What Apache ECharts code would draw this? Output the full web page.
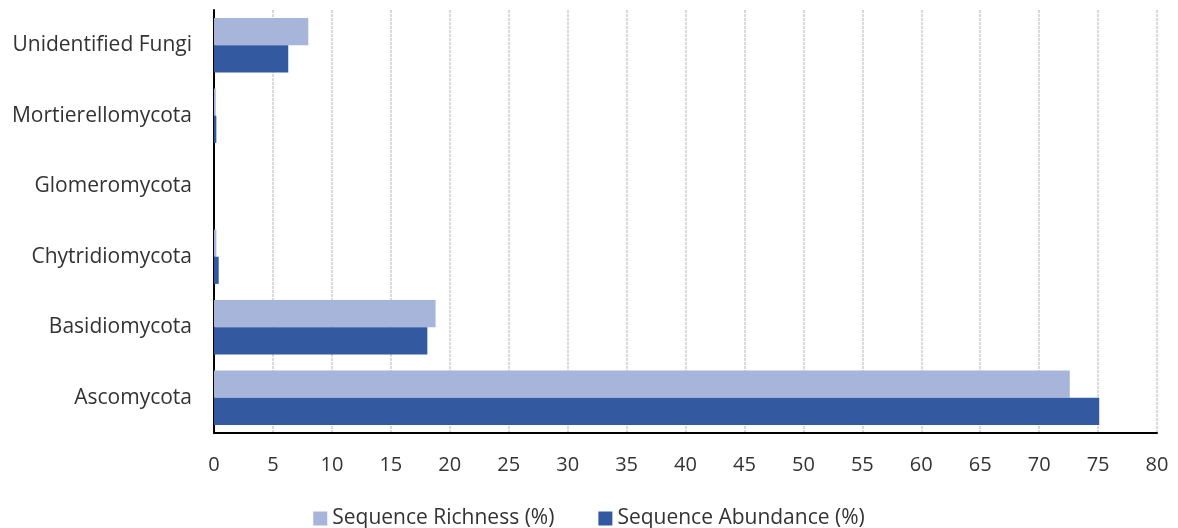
<!DOCTYPE html>
<html><head><meta charset="utf-8">
<script src="https://cdn.jsdelivr.net/npm/echarts@6/dist/echarts.min.js"></script>
<style>html,body{margin:0;padding:0;background:#fff}#c{width:1178px;height:528px}</style>
</head><body><div id="c"></div>
<script>
const categories = ['Ascomycota','Basidiomycota','Chytridiomycota','Glomeromycota','Mortierellomycota','Unidentified Fungi'];
const richness = [72.6, 18.8, 0.2, 0, 0.15, 8.0];
const abundance = [75.1, 18.1, 0.4, 0, 0.2, 6.3];
const seriesNames = ['Sequence Richness (%)','Sequence Abundance (%)'];
const xTicks = {min:0, max:80, interval:5};

const chart = echarts.init(document.getElementById('c'));
const font = 'Open Sans, Liberation Sans, sans-serif';
chart.setOption({
  animation:false,
  grid:{left:214, right:21, top:10, bottom:95, containLabel:false},
  legend:{data:seriesNames, bottom:-6, itemWidth:14, itemHeight:14, itemGap:44, icon:'rect',
    textStyle:{fontFamily:font, fontSize:21, color:'#333'}},
  xAxis:{type:'value', min:xTicks.min, max:xTicks.max, interval:xTicks.interval,
    axisLine:{show:true, lineStyle:{color:'#000', width:2}}, axisTick:{show:false},
    axisLabel:{fontFamily:font, fontSize:20, color:'#333', margin:22},
    splitLine:{show:true, lineStyle:{color:'#d9d9d9', width:2, type:[3,1]}}},
  yAxis:{type:'category', data:categories,
    axisLine:{show:true, lineStyle:{color:'#000', width:2}}, axisTick:{show:false},
    axisLabel:{fontFamily:font, fontSize:21, color:'#333', margin:22}},
  series:[
    {name:seriesNames[0], type:'bar', data:richness, barGap:'0%', barCategoryGap:'23%',
     itemStyle:{color:'#A7B5DB'}},
    {name:seriesNames[1], type:'bar', data:abundance, barGap:'0%', barCategoryGap:'23%',
     itemStyle:{color:'#335AA1'}}
  ]
});
</script></body></html>
